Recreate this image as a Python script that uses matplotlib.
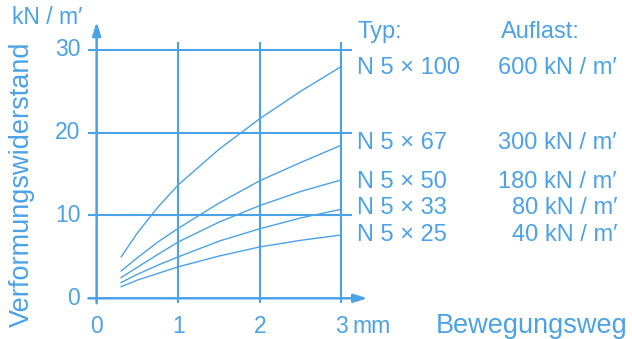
import matplotlib
matplotlib.use("Agg")
import matplotlib.pyplot as plt

# Daten
weg = [0.3, 0.5, 0.75, 1.0, 1.5, 2.0, 2.5, 3.0]
n5x100 = [5.0, 7.9, 11.0, 13.7, 18.0, 21.7, 25.0, 28.0]
n5x67 = [3.3, 4.9, 6.8, 8.45, 11.5, 14.2, 16.4, 18.5]
n5x50 = [2.5, 3.75, 5.3, 6.8, 9.2, 11.2, 12.9, 14.3]
n5x33 = [1.9, 2.9, 4.0, 5.0, 6.9, 8.4, 9.7, 10.75]
n5x25 = [1.4, 2.2, 3.0, 3.8, 5.1, 6.2, 7.0, 7.65]
typen = ["N 5 × 100", "N 5 × 67", "N 5 × 50", "N 5 × 33", "N 5 × 25"]
auflast = ["600 kN / m′", "300 kN / m′", "180 kN / m′", "80 kN / m′", "40 kN / m′"]
x_ticks = [0, 1, 2, 3]
y_ticks = [0, 10, 20, 30]

blau = "#4ba2e6"
fam = ["Liberation Sans", "DejaVu Sans"]
W, H = 632, 339

fig = plt.figure(figsize=(W / 100, H / 100), dpi=100)
ax = fig.add_axes([0.1142, 0.0835, 0.4777, 0.867])
ax.set_xlim(-0.3, 3.4)
ax.set_ylim(-1.5, 34)
ax.axis("off")


def ftext(px, py, s, **kw):
    fig.text(px / W, 1 - py / H, s, color=blau, family=fam, **kw)


# Gitterlinien
for y in y_ticks[1:]:
    ax.plot([-0.1, 3.13], [y, y], color=blau, lw=1.5, solid_capstyle="butt")
for x in x_ticks[1:]:
    ax.plot([x, x], [-0.6, 31.0], color=blau, lw=1.5, solid_capstyle="butt")

# Achsen mit Pfeilen
arrow = dict(arrowstyle="-|>,head_length=0.8,head_width=0.25", color=blau, lw=1.8,
             shrinkA=0, shrinkB=0)
ax.annotate("", xy=(0, 33.4), xytext=(0, -0.6), arrowprops=arrow)
ax.annotate("", xy=(3.32, 0), xytext=(-0.1, 0), arrowprops=arrow)

# Kurven
for werte in [n5x100, n5x67, n5x50, n5x33, n5x25]:
    ax.plot(weg, werte, color=blau, lw=1.0)

# Achsenbeschriftungen
for y in y_ticks:
    ax.text(-0.2, y, str(y), ha="right", va="center", fontsize=16.5, color=blau, family=fam)
for x in x_ticks:
    ax.text(x, -4.2, str(x), ha="center", va="baseline", fontsize=16.5, color=blau, family=fam)
ftext(352, 333, "mm", ha="left", va="baseline", fontsize=16.5)
ftext(12, 18, "kN / m′", ha="left", va="center", fontsize=16.5)
ftext(22, 184, "Verformungswiderstand", ha="center", va="center", fontsize=19.5, rotation=90)
ftext(436, 333, "Bewegungsweg", ha="left", va="baseline", fontsize=19.5)

# Legende rechts
ftext(357, 32, "Typ:", ha="left", va="center", fontsize=17)
ftext(501, 32, "Auflast:", ha="left", va="center", fontsize=17)
for py, t, a in zip([68, 143, 182, 208, 235], typen, auflast):
    ftext(357, py, t, ha="left", va="center", fontsize=17)
    ftext(617, py, a, ha="right", va="center", fontsize=17)

fig.savefig("out.png", dpi=100)
